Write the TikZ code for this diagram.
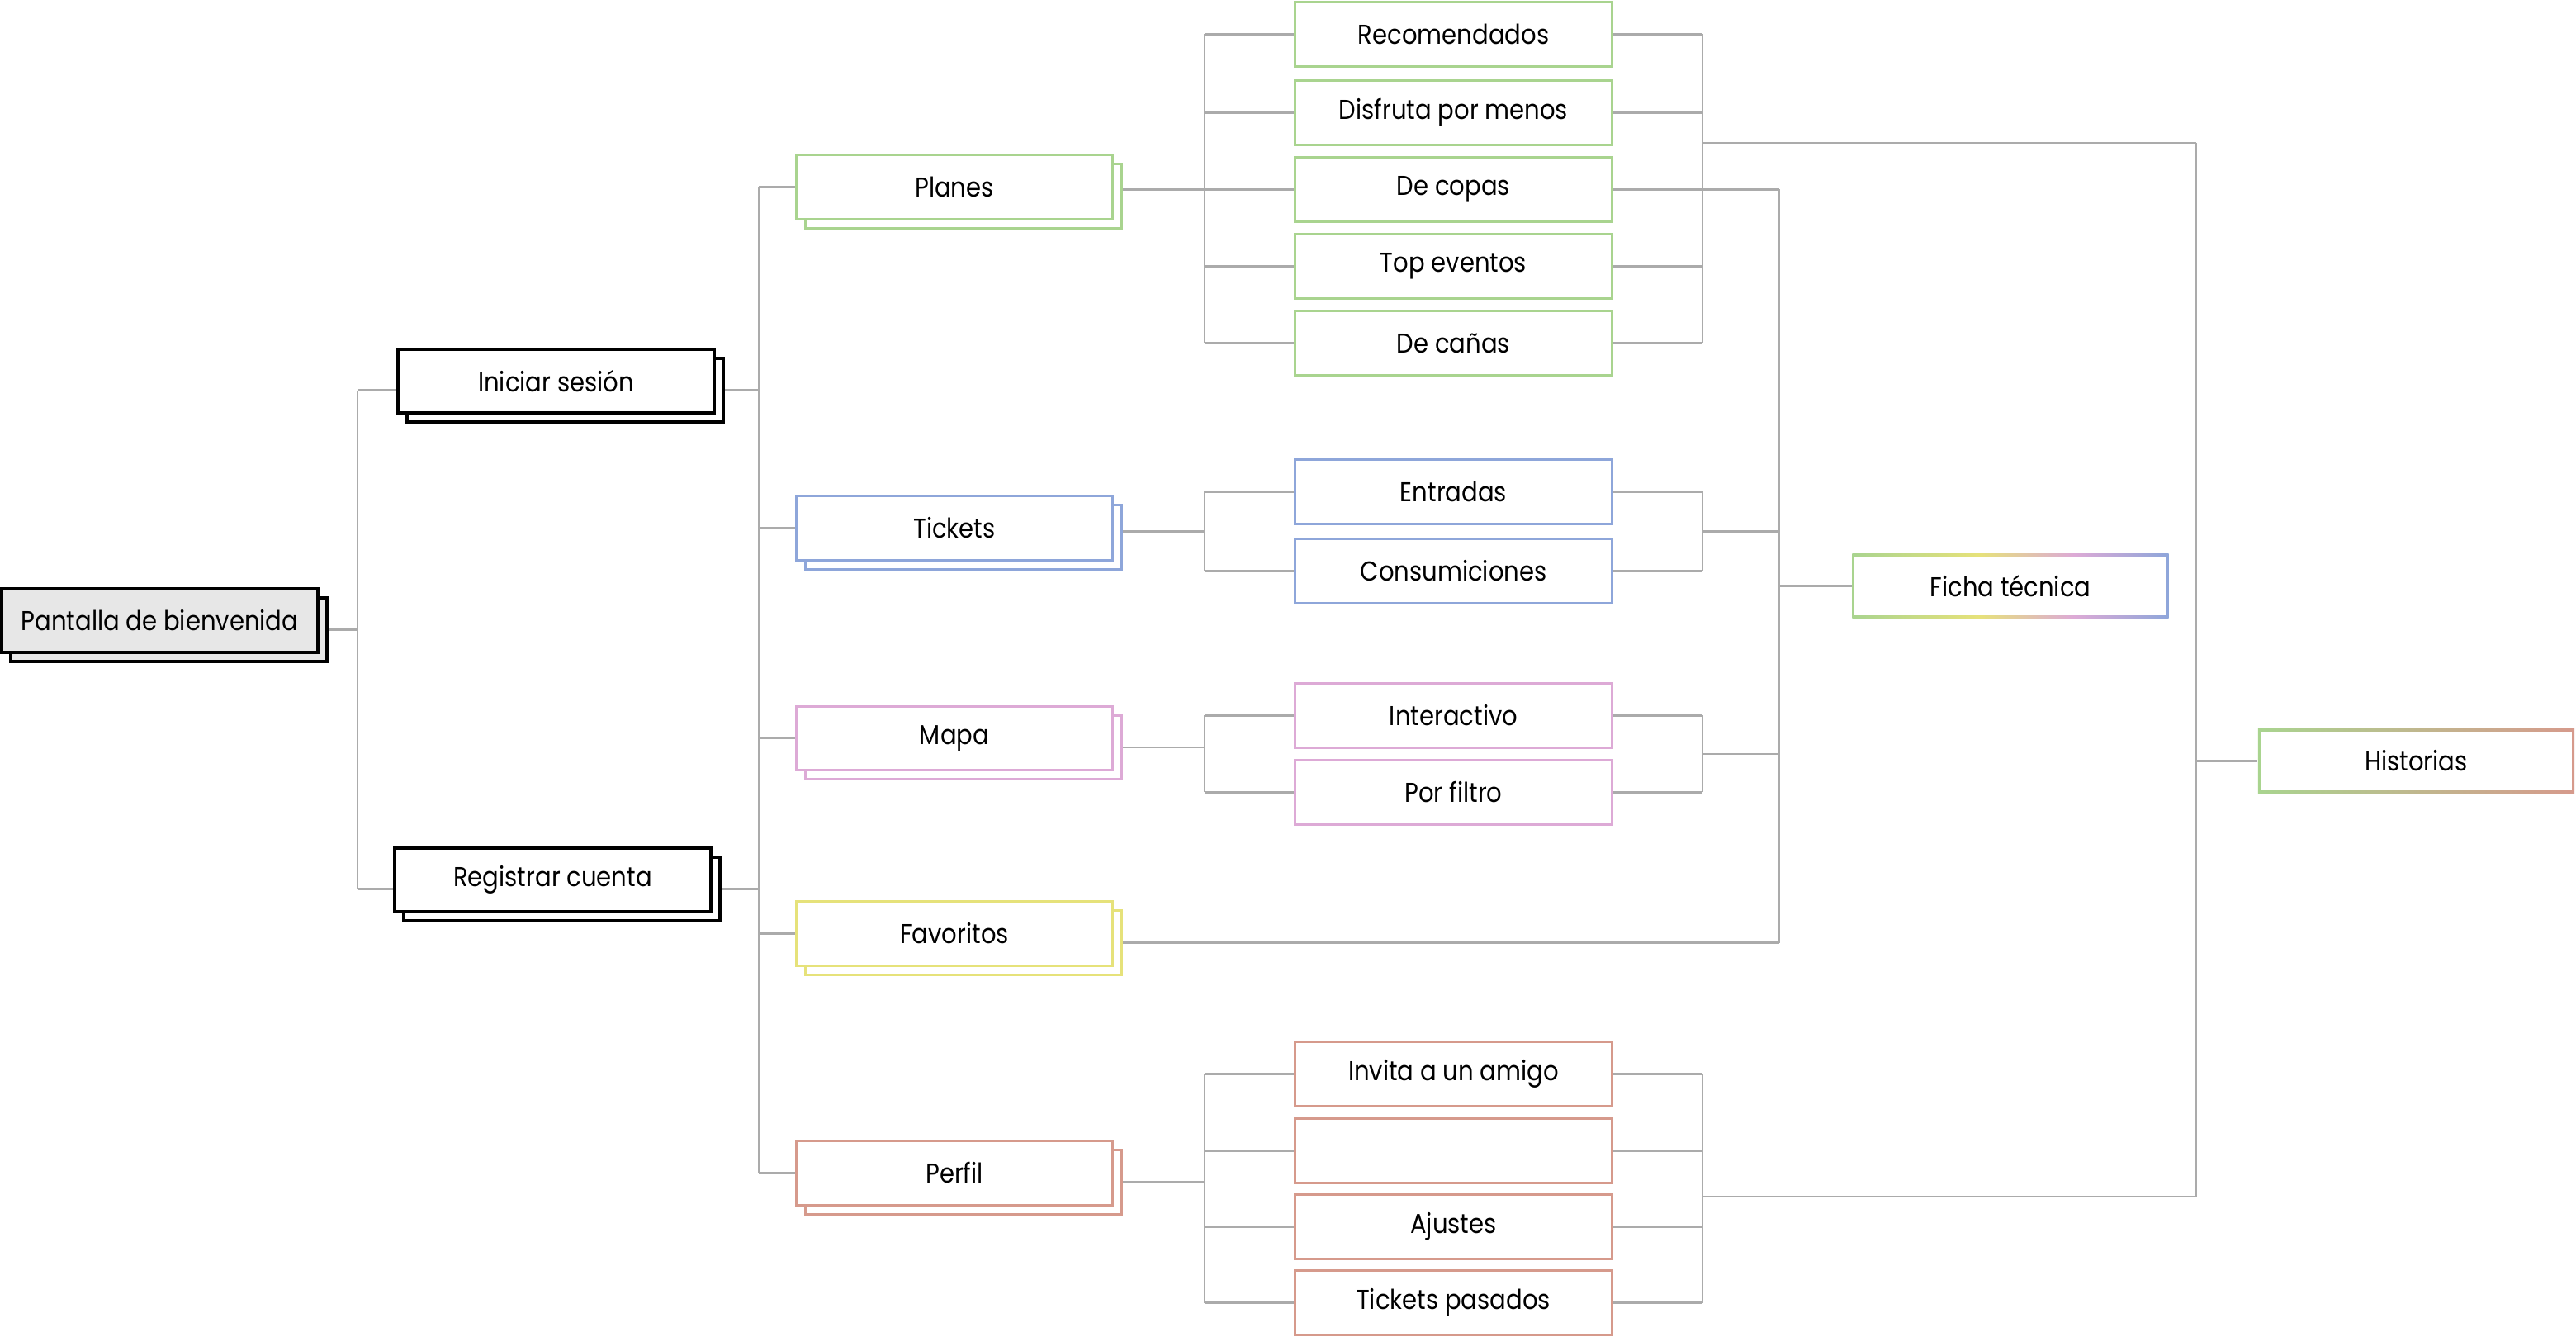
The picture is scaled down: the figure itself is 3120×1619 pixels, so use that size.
\documentclass[tikz,border=0pt]{standalone}
\usepackage{fontspec}
\setmainfont{Poppins}[FakeStretch=0.88]
\usetikzlibrary{backgrounds}

% palette
\definecolor{cgreen}{HTML}{A9D48F}
\definecolor{cblue}{HTML}{8EA6DA}
\definecolor{cpink}{HTML}{DDAAD6}
\definecolor{cyellow}{HTML}{E6E27A}
\definecolor{csalmon}{HTML}{D69A8C}
\definecolor{linkgray}{HTML}{ABABAB}
\definecolor{welcomefill}{HTML}{E7E7E7}

% multi-colour border for the shared detail screen
\pgfdeclarehorizontalshading{fichagrad}{100bp}{%
  color(0bp)=(cgreen); color(25bp)=(cgreen); color(45bp)=(cyellow);
  color(60bp)=(cpink); color(75bp)=(cblue); color(100bp)=(cblue)}

\tikzset{
  x=0.01cm, y=-0.01cm,
  screen/.style={draw, line width=0.85pt, fill=white, inner sep=0pt,
    minimum width=3.83cm, minimum height=0.77cm,
    font=\fontsize{9.4}{11}\selectfont},
  gradscreen/.style={inner sep=0pt, minimum width=3.83cm, minimum height=0.77cm,
    font=\fontsize{9.4}{11}\selectfont,
    path picture={\fill[white]
      ([shift={(0.85pt,0.85pt)}]path picture bounding box.south west) rectangle
      ([shift={(-0.85pt,-0.85pt)}]path picture bounding box.north east);}},
  link/.style={draw=linkgray, line width=0.75pt},
}

% a screen drawn as two stacked cards: #1 name, #2 x, #3 y, #4 style, #5 label
\newcommand\stackcard[5]{%
  \node[screen, #4, xshift=0.11cm, yshift=-0.11cm] (#1b) at (#2,#3) {};
  \node[screen, #4] (#1) at (#2,#3) {#5};}

\begin{document}
\begin{tikzpicture}
\useasboundingbox (0,0) rectangle (3120,1619);

% level 0 and 1
\stackcard{welcome}{193.5}{751.5}{draw=black, line width=1pt, fill=welcomefill}{Pantalla de bienvenida}
\stackcard{login}{673.5}{461.5}{draw=black, line width=1pt}{Iniciar sesión}
\stackcard{signup}{669.5}{1065.5}{draw=black, line width=1pt}{Registrar cuenta}

% level 2
\stackcard{planes}{1156}{226.5}{draw=cgreen}{Planes}
\stackcard{tickets}{1156}{639.5}{draw=cblue}{Tickets}
\stackcard{mapa}{1156}{894}{draw=cpink}{Mapa}
\stackcard{favs}{1156}{1130.5}{draw=cyellow}{Favoritos}
\stackcard{perfil}{1156}{1420.5}{draw=csalmon}{Perfil}

% level 3
\node[screen, draw=cgreen] (recom) at (1760.5,41.5) {Recomendados};
\node[screen, draw=cgreen] (disfruta) at (1760.5,136.5) {Disfruta por menos};
\node[screen, draw=cgreen] (copas) at (1760.5,229.5) {De copas};
\node[screen, draw=cgreen] (top) at (1760.5,322.5) {Top eventos};
\node[screen, draw=cgreen] (canas) at (1760.5,415.5) {De cañas};

\node[screen, draw=cblue] (entradas) at (1760.5,595.5) {Entradas};
\node[screen, draw=cblue] (consum) at (1760.5,691.5) {Consumiciones};

\node[screen, draw=cpink] (interac) at (1760.5,866.5) {Interactivo};
\node[screen, draw=cpink] (filtro) at (1760.5,959.5) {Por filtro};

\node[screen, draw=csalmon] (invita) at (1760.5,1300.5) {Invita a un amigo};
\node[screen, draw=csalmon] (blank) at (1760.5,1393.5) {};
\node[screen, draw=csalmon] (ajustes) at (1760.5,1485.5) {Ajustes};
\node[screen, draw=csalmon] (pasados) at (1760.5,1577.5) {Tickets pasados};

% shared screens
\node[gradscreen, shading=fichagrad, shade] (ficha) at (2435,709.5) {Ficha técnica};
\node[gradscreen, left color=cgreen, right color=csalmon] (hist) at (2926.5,921.5) {Historias};

% junction columns
\coordinate (ta) at (433,0);
\coordinate (tb) at (919,0);
\coordinate (fl) at (1459,0);
\coordinate (fr) at (2062,0);
\coordinate (ff) at (2155,0);
\coordinate (fh) at (2660,0);
\coordinate (planesout) at (0,173);
\coordinate (ticketsmid) at (0,643.5);
\coordinate (mapamid) at (0,913);
\coordinate (perfilout) at (0,1449);

\begin{pgfonlayer}{background}
\fill[white] (0,0) rectangle (3120,1619);

% welcome -> login / signup
\draw[link] (welcomeb.east) -- (welcomeb.east -| ta);
\draw[link] (ta |- loginb.center) -- (ta |- signupb.center);
\draw[link] (ta |- loginb.center) -- (login.west |- loginb.center);
\draw[link] (ta |- signupb.center) -- (signup.west |- signupb.center);

% login / signup -> sections
\draw[link] (loginb.east) -- (loginb.east -| tb);
\draw[link] (signupb.east) -- (signupb.east -| tb);
\draw[link] (tb |- planes.west) -- (tb |- perfil.west);
\foreach \s in {planes,tickets,mapa,favs,perfil}
  \draw[link] (tb |- \s.west) -- (\s.west);

% Planes fork
\draw[link] (planesb.east |- copas.west) -- (fl |- copas.west);
\draw[link] (fl |- recom.west) -- (fl |- canas.west);
\draw[link] (fr |- recom.east) -- (fr |- canas.east);
\foreach \c in {recom,disfruta,copas,top,canas} {
  \draw[link] (fl |- \c.west) -- (\c.west);
  \draw[link] (\c.east) -- (fr |- \c.east);
}
\draw[link] (copas.east) -- (ff |- copas.east);
\draw[link] (fr |- planesout) -- (fh |- planesout);

% Tickets fork
\draw[link] (ticketsb.east |- ticketsmid) -- (fl |- ticketsmid);
\draw[link] (fl |- entradas.west) -- (fl |- consum.west);
\draw[link] (fr |- entradas.east) -- (fr |- consum.east);
\foreach \c in {entradas,consum} {
  \draw[link] (fl |- \c.west) -- (\c.west);
  \draw[link] (\c.east) -- (fr |- \c.east);
}
\draw[link] (fr |- ticketsmid) -- (ff |- ticketsmid);

% Mapa fork
\draw[link] (mapab.east) -- (mapab.east -| fl);
\draw[link] (fl |- interac.west) -- (fl |- filtro.west);
\draw[link] (fr |- interac.east) -- (fr |- filtro.east);
\foreach \c in {interac,filtro} {
  \draw[link] (fl |- \c.west) -- (\c.west);
  \draw[link] (\c.east) -- (fr |- \c.east);
}
\draw[link] (fr |- mapamid) -- (ff |- mapamid);

% Favoritos
\draw[link] (favsb.east) -- (favsb.east -| ff);

% Ficha column
\draw[link] (ff |- copas.east) -- (ff |- favsb.east);
\draw[link] (ff |- ficha.west) -- (ficha.west);

% Perfil fork
\draw[link] (perfilb.east) -- (perfilb.east -| fl);
\draw[link] (fl |- invita.west) -- (fl |- pasados.west);
\draw[link] (fr |- invita.east) -- (fr |- pasados.east);
\foreach \c in {invita,blank,ajustes,pasados} {
  \draw[link] (fl |- \c.west) -- (\c.west);
  \draw[link] (\c.east) -- (fr |- \c.east);
}
\draw[link] (fr |- perfilout) -- (fh |- perfilout);

% Historias column
\draw[link] (fh |- planesout) -- (fh |- perfilout);
\draw[link] (fh |- hist.west) -- (hist.west);
\end{pgfonlayer}
\end{tikzpicture}
\end{document}
